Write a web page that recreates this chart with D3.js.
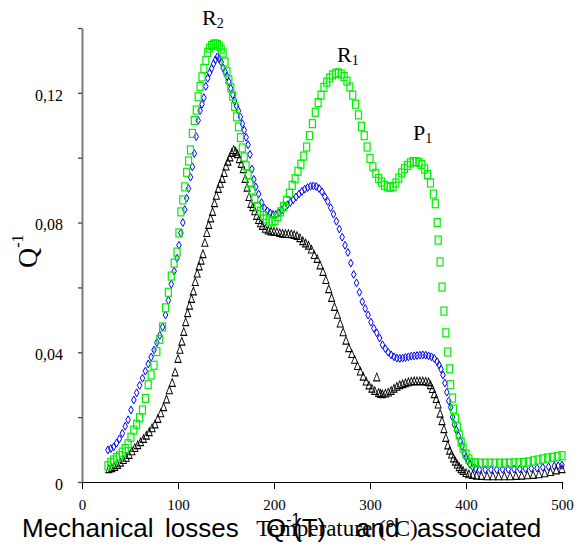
<!DOCTYPE html>
<html>
<head>
<meta charset="utf-8">
<script src="https://cdn.jsdelivr.net/npm/d3@7.9.0/dist/d3.min.js"></script>
<style>
  body { margin: 0; background: #fff; }
  svg { display: block; }
</style>
</head>
<body>
<svg id="chart" width="576" height="546"></svg>
<script>
// green squares
const greenT = [27,30,33,36,39,42,45,48,51,54,57,60,63,66,69,72,75,78,81,84,87,90,93,96,99,101,103,105,107,109,111,113,115,117,119,121,123,125,127,129,131,133,135,137,139,141,143,145,147,149,151,153,155,157,159,161,163,165,167,169,171,173,175,177,180,183,186,189,192,195,198,201,204,207,210,213,216,219,222,225,228,231,234,237,240,243,246,249,252,255,258,261,264,267,270,273,276,279,282,285,288,291,294,297,300,303,306,309,312,315,318,321,324,327,330,333,336,339,342,345,348,351,354,357,360,363,366,368,370,371,373,375,377,379,381,383,384,386,387,389,391,393,395,397,400,403,406,410,415,420,425,430,435,440,445,450,455,460,465,470,475,480,485,490,495,500];
const greenQ = [.0050,.0060,.0068,.0075,.0081,.0092,.0103,.0118,.0138,.0160,.0178,.0198,.0222,.0258,.0300,.0330,.0360,.0402,.0440,.0478,.0537,.0585,.0635,.0675,.0709,.0768,.0833,.0870,.0910,.0955,.0990,.1024,.1075,.1115,.1147,.1188,.1220,.1249,.1275,.1300,.1325,.1338,.1346,.1350,.1351,.1349,.1344,.1335,.1323,.1295,.1265,.1240,.1215,.1190,.1158,.1126,.1095,.1062,.1030,.1002,.0975,.0948,.0922,.0900,.0872,.0850,.0835,.0822,.0811,.0805,.0802,.0806,.0818,.0833,.0850,.0868,.0890,.0915,.0935,.0958,.0980,.1005,.1033,.1068,.1105,.1140,.1170,.1193,.1217,.1233,.1246,.1255,.1260,.1262,.1258,.1250,.1236,.1218,.1193,.1165,.1132,.1097,.1068,.1033,.0998,.0972,.0952,.0936,.0925,.0915,.0910,.0909,.0911,.0922,.0937,.0953,.0966,.0976,.0984,.0988,.0988,.0985,.0979,.0965,.0948,.0922,.0888,.0858,.0800,.0746,.0679,.0601,.0527,.0460,.0401,.0349,.0300,.0259,.0225,.0197,.0170,.0145,.0123,.0105,.0086,.0071,.0060,.0059,.0058,.0058,.0058,.0058,.0058,.0058,.0058,.0059,.0059,.0060,.0062,.0065,.0068,.0071,.0074,.0076,.0078,.0081];

// blue diamonds
const blueT = [27,30,33,36,39,42,45,48,51,54,57,60,63,66,69,72,75,78,81,84,87,90,93,96,99,101,103,105,107,109,111,113,115,117,119,121,123,125,127,129,131,133,135,137,139,141,143,145,147,149,151,153,155,157,159,161,163,165,167,169,171,173,175,177,179,181,184,187,190,193,196,199,202,205,208,211,214,217,220,223,226,229,232,235,238,241,244,247,250,253,256,259,262,265,268,271,274,277,280,283,286,289,292,295,298,301,304,307,310,313,316,319,322,325,328,331,334,337,340,343,346,349,352,355,358,361,364,367,370,372,374,376,378,380,382,384,386,388,390,392,394,396,398,400,402,404,407,410,414,420,426,432,438,444,450,456,462,468,474,480,486,492,496,500];
const blueQ = [.0099,.0103,.0108,.0120,.0133,.0150,.0172,.0192,.0222,.0253,.0275,.0298,.0320,.0342,.0364,.0385,.0407,.0430,.0452,.0478,.0515,.0560,.0610,.0650,.0690,.0730,.0768,.0800,.0840,.0875,.0905,.0940,.0972,.1013,.1065,.1115,.1145,.1165,.1185,.1220,.1245,.1262,.1275,.1290,.1302,.1311,.1305,.1295,.1277,.1265,.1251,.1234,.1214,.1194,.1175,.1160,.1145,.1126,.1105,.1085,.1063,.1040,.1010,.0965,.0933,.0910,.0888,.0862,.0845,.0836,.0830,.0825,.0825,.0830,.0838,.0847,.0855,.0862,.0870,.0879,.0888,.0896,.0903,.0908,.0912,.0913,.0911,.0905,.0895,.0880,.0865,.0846,.0826,.0804,.0780,.0755,.0730,.0708,.0675,.0640,.0614,.0585,.0556,.0535,.0515,.0493,.0474,.0460,.0444,.0423,.0411,.0400,.0392,.0386,.0382,.0381,.0382,.0384,.0386,.0388,.0389,.0390,.0391,.0392,.0391,.0389,.0386,.0381,.0371,.0361,.0348,.0330,.0305,.0277,.0250,.0230,.0200,.0177,.0160,.0143,.0126,.0110,.0089,.0076,.0066,.0055,.0046,.0041,.0038,.0038,.0038,.0038,.0039,.0039,.0040,.0040,.0041,.0042,.0043,.0045,.0047,.0049,.0050,.0052];

// black triangles
const blackT = [28,31,34,37,40,43,46,49,52,55,58,61,64,67,70,73,76,79,82,85,88,91,94,97,100,102,104,106,108,110,112,114,116,118,120,122,124,126,128,130,132,134,136,138,140,142,144,146,148,150,152,154,156,158,160,162,164,166,168,170,172,174,176,178,180,182,184,186,188,191,194,197,200,203,206,209,212,215,218,221,224,227,230,233,236,239,242,245,248,251,254,257,260,263,266,269,272,275,278,281,284,287,290,293,296,299,302,305,307,309,311,313,316,319,322,325,328,331,334,337,340,343,346,349,352,355,358,361,363,365,367,369,371,373,375,377,379,381,383,385,387,389,391,393,395,397,400,403,407,411,416,422,428,434,440,446,452,458,464,470,476,482,488,494,500];
const blackQ = [.0037,.0040,.0044,.0050,.0057,.0065,.0072,.0081,.0092,.0102,.0111,.0120,.0130,.0140,.0151,.0163,.0175,.0192,.0209,.0228,.0252,.0280,.0303,.0335,.0377,.0405,.0430,.0460,.0490,.0518,.0541,.0562,.0585,.0614,.0640,.0662,.0680,.0700,.0735,.0765,.0790,.0810,.0830,.0857,.0880,.0901,.0917,.0932,.0950,.0970,.0985,.0998,.1012,.1021,.1016,.1008,.0993,.0978,.0962,.0932,.0905,.0876,.0855,.0845,.0832,.0818,.0805,.0795,.0787,.0778,.0773,.0770,.0769,.0768,.0765,.0763,.0762,.0762,.0761,.0759,.0756,.0749,.0740,.0733,.0726,.0714,.0697,.0685,.0665,.0645,.0620,.0592,.0565,.0537,.0513,.0486,.0459,.0433,.0410,.0392,.0374,.0355,.0338,.0322,.0307,.0295,.0285,.0278,.0320,.0272,.0269,.0268,.0270,.0273,.0278,.0285,.0291,.0296,.0299,.0302,.0305,.0307,.0308,.0308,.0308,.0308,.0307,.0305,.0296,.0284,.0268,.0253,.0236,.0208,.0185,.0160,.0133,.0110,.0094,.0082,.0070,.0060,.0051,.0043,.0037,.0031,.0025,.0021,.0019,.0017,.0016,.0015,.0015,.0015,.0015,.0015,.0016,.0017,.0018,.0019,.0021,.0024,.0028,.0033,.0037];

const xTicks = [0, 100, 200, 300, 400, 500];
const yTicks = [0, 0.02, 0.04, 0.06, 0.08, 0.10, 0.12, 0.14];
const yLabelled = [0, 0.04, 0.08, 0.12];

const SERIF = '"Liberation Serif", "Times New Roman", serif';
const SANS = '"Liberation Sans", Arial, sans-serif';

const svg = d3.select('#chart');

const x = d3.scaleLinear().domain([0, 500]).range([82, 562]);
const y = d3.scaleLinear().domain([0, 0.14]).range([482, 28]);

const zip = (ts, qs) => ts.map((t, i) => ({ t: t, q: qs[i] }));

// axes
let xAxis = svg.append('g')
  .attr('transform', 'translate(0,482)')
  .call(d3.axisBottom(x).tickValues(xTicks).tickSize(7).tickSizeOuter(0));
xAxis.attr('font-family', SERIF);
xAxis.select('.domain').attr('stroke', '#000').attr('stroke-width', 1.2);
xAxis.selectAll('line').attr('stroke', '#000');
xAxis.selectAll('text')
  .attr('font-family', SERIF)
  .attr('font-size', 15)
  .attr('fill', '#000')
  .attr('y', 17);

let yAxis = svg.append('g')
  .attr('transform', 'translate(82,0)')
  .call(d3.axisLeft(y)
    .tickValues(yTicks)
    .tickSize(4)
    .tickSizeOuter(0)
    .tickPadding(15)
    .tickFormat((d) => {
      let hit = yLabelled.find((v) => Math.abs(v - d) < 1e-9);
      if (hit === undefined) return '';
      return hit === 0 ? '0' : d3.format('.2f')(hit).replace('.', ',');
    }));
yAxis.attr('font-family', SERIF);
yAxis.select('.domain').attr('stroke', '#7a7a7a').attr('stroke-width', 2);
yAxis.selectAll('line').attr('stroke', '#444').attr('stroke-width', 1.3);
yAxis.selectAll('text')
  .attr('font-family', SERIF)
  .attr('font-size', 16)
  .attr('fill', '#000')
  .attr('dy', '0.45em');

// series
const diamond = d3.symbol(d3.symbolDiamond).size(18);
svg.append('g')
  .selectAll('path')
  .data(zip(blueT, blueQ))
  .join('path')
  .attr('d', diamond)
  .attr('transform', (d) => `translate(${x(d.t)},${y(d.q)})`)
  .attr('fill', 'none')
  .attr('stroke', '#0000ff')
  .attr('stroke-width', 1);

const triangle = d3.symbol(d3.symbolTriangle).size(26);
svg.append('g')
  .selectAll('path')
  .data(zip(blackT, blackQ))
  .join('path')
  .attr('d', triangle)
  .attr('transform', (d) => `translate(${x(d.t)},${y(d.q)}) scale(0.8,1.15)`)
  .attr('fill', 'none')
  .attr('stroke', '#000')
  .attr('stroke-width', 1);

svg.append('g')
  .selectAll('rect')
  .data(zip(greenT, greenQ))
  .join('rect')
  .attr('x', (d) => x(d.t) - 3)
  .attr('y', (d) => y(d.q) - 4)
  .attr('width', 6)
  .attr('height', 8)
  .attr('fill', 'none')
  .attr('stroke', '#00ee00')
  .attr('stroke-width', 1.2);

// peak labels
function peakLabel(letter, sub, px, py) {
  let t = svg.append('text')
    .attr('font-family', SERIF)
    .attr('x', px)
    .attr('y', py)
    .attr('font-size', 22)
    .attr('fill', '#000');
  t.append('tspan').text(letter);
  t.append('tspan').attr('font-size', 14).attr('dy', 3).text(sub);
}
peakLabel('R', '2', 202, 25);
peakLabel('R', '1', 337, 62);
peakLabel('P', '1', 413, 140);

// y label
let yl = svg.append('text')
  .attr('font-family', SERIF)
  .attr('transform', 'translate(37,268) rotate(-90)')
  .attr('font-size', 28)
  .attr('fill', '#000');
yl.append('tspan').text('Q');
yl.append('tspan').attr('font-size', 16).attr('dy', -14).text('-1');

// x label
svg.append('text')
  .attr('font-family', SERIF)
  .attr('x', 337)
  .attr('y', 536)
  .attr('text-anchor', 'middle')
  .attr('font-size', 23)
  .attr('fill', '#000')
  .text('Temperature (°C)');

// caption (overlaps the axis title, as in the source figure)
let cap = svg.append('text')
  .attr('y', 537)
  .attr('font-family', SANS)
  .attr('font-size', 26)
  .attr('fill', '#000');
cap.append('tspan').attr('x', 22).text('Mechanical');
cap.append('tspan').attr('x', 165).text('losses');
cap.append('tspan').attr('x', 266).text('Q');
cap.append('tspan').attr('font-size', 16).attr('dy', -12).text('-1');
cap.append('tspan').attr('x', 293).attr('dy', 12).text('(T)');
cap.append('tspan').attr('x', 356).text('and');
cap.append('tspan').attr('x', 417).text('associated');
</script>
</body>
</html>
